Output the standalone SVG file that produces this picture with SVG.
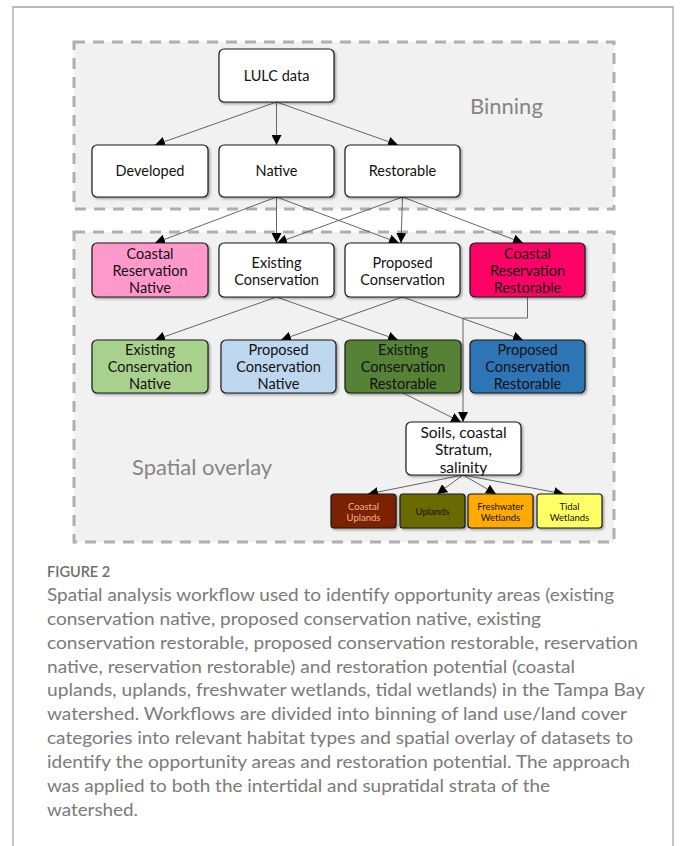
<svg xmlns="http://www.w3.org/2000/svg" width="681" height="846" viewBox="0 0 681 846">
<style>
.frame{fill:none;stroke:#a6a6a6;stroke-width:1.3}
.group{fill:#f1f1f1;stroke:#b3aeae;stroke-width:3;stroke-dasharray:11 8}
.box{stroke:#1a1a1a;stroke-width:1.2;filter:url(#sh)}
.t{font-family:Lato,"Liberation Sans",sans-serif;font-size:14.5px;text-anchor:middle;fill:#111}
.big{font-size:15.5px}
.sm{font-size:9.5px}
.glabel{font-family:Lato,"Liberation Sans",sans-serif;font-size:22px;fill:#858585}
.con{fill:none;stroke:#555;stroke-width:0.9;marker-end:url(#ah)}
.cap{font-family:Lato,"Liberation Sans",sans-serif;font-size:17px;fill:#7a7a7a}
.fig{font-family:Lato,"Liberation Sans",sans-serif;font-size:14.5px;font-weight:600;fill:#6e6e6e}
</style>
<defs>
<filter id="sh" x="-10%" y="-10%" width="130%" height="140%">
<feDropShadow dx="1.5" dy="1.5" stdDeviation="1" flood-color="#000" flood-opacity="0.35"/>
</filter>
<marker id="ah" markerUnits="userSpaceOnUse" markerWidth="10" markerHeight="10" viewBox="0 0 10 10" refX="10" refY="5" orient="auto">
<path d="M0,0 L10,5 L0,10 z" fill="#000"/>
</marker>
</defs>
<rect width="681" height="846" fill="#fff"/>
<path class="frame" d="M13,850 V7 H673 V850"/>

<g id="binning">
<rect class="group" x="74" y="42" width="540" height="167"/>
<text class="glabel" x="470" y="114">Binning</text>
</g>
<g id="spatial-overlay">
<rect class="group" x="74" y="232" width="540" height="310"/>
<text class="glabel" x="132" y="475">Spatial overlay</text>
</g>

<g id="connectors">
<line class="con" x1="276.5" y1="102" x2="155" y2="145"/>
<line class="con" x1="276.5" y1="102" x2="276.5" y2="145"/>
<line class="con" x1="276.5" y1="102" x2="398" y2="145"/>
<line class="con" x1="276.5" y1="197" x2="155" y2="243"/>
<line class="con" x1="276.5" y1="197" x2="276.5" y2="243"/>
<line class="con" x1="276.5" y1="197" x2="399" y2="243"/>
<line class="con" x1="402.5" y1="197" x2="277" y2="243"/>
<line class="con" x1="402.5" y1="197" x2="401" y2="243"/>
<line class="con" x1="402.5" y1="197" x2="523" y2="243"/>
<line class="con" x1="276.5" y1="297" x2="155" y2="340"/>
<line class="con" x1="276.5" y1="297" x2="398" y2="340"/>
<line class="con" x1="402.5" y1="297" x2="281" y2="340"/>
<line class="con" x1="402.5" y1="297" x2="523" y2="340"/>
<polyline class="con" points="527.5,297 527.5,318 463,318 463,422"/>
<line class="con" x1="403" y1="393" x2="461" y2="422"/>
<line class="con" x1="463" y1="475" x2="368" y2="494"/>
<line class="con" x1="463" y1="475" x2="437" y2="494"/>
<line class="con" x1="463" y1="475" x2="496" y2="494"/>
<line class="con" x1="463" y1="475" x2="564" y2="494"/>
</g>

<g id="lulc"><rect class="box" x="219" y="49" width="115" height="53" rx="5" fill="#fff"/><text class="t" x="276.5" y="81">LULC data</text></g>
<g id="developed"><rect class="box" x="92" y="145" width="116" height="52" rx="5" fill="#fff"/><text class="t" x="150" y="176">Developed</text></g>
<g id="native"><rect class="box" x="219" y="145" width="115" height="52" rx="5" fill="#fff"/><text class="t" x="276.5" y="176">Native</text></g>
<g id="restorable"><rect class="box" x="345" y="145" width="115" height="52" rx="5" fill="#fff"/><text class="t" x="402.5" y="176">Restorable</text></g>

<g id="coastal-res-native"><rect class="box" x="92" y="243" width="116" height="54" rx="5" fill="#ff99cc"/><text class="t" x="150" y="258.5">Coastal</text><text class="t" x="150" y="275.5">Reservation</text><text class="t" x="150" y="292.5">Native</text></g>
<g id="existing-cons"><rect class="box" x="219" y="243" width="115" height="54" rx="5" fill="#fff"/><text class="t" x="276.5" y="267.5">Existing</text><text class="t" x="276.5" y="285">Conservation</text></g>
<g id="proposed-cons"><rect class="box" x="345" y="243" width="115" height="54" rx="5" fill="#fff"/><text class="t" x="402.5" y="267.5">Proposed</text><text class="t" x="402.5" y="285">Conservation</text></g>
<g id="coastal-res-restorable"><rect class="box" x="470" y="243" width="115" height="54" rx="5" fill="#ff0066"/><text class="t" x="527.5" y="258.5">Coastal</text><text class="t" x="527.5" y="275.5">Reservation</text><text class="t" x="527.5" y="292.5">Restorable</text></g>

<g id="existing-cons-native"><rect class="box" x="92" y="340" width="116" height="53" rx="5" fill="#a9d18e"/><text class="t" x="150" y="355">Existing</text><text class="t" x="150" y="372">Conservation</text><text class="t" x="150" y="389">Native</text></g>
<g id="proposed-cons-native"><rect class="box" x="221" y="340" width="115" height="53" rx="5" fill="#bdd7ee"/><text class="t" x="278.5" y="355">Proposed</text><text class="t" x="278.5" y="372">Conservation</text><text class="t" x="278.5" y="389">Native</text></g>
<g id="existing-cons-restorable"><rect class="box" x="345" y="340" width="116" height="53" rx="5" fill="#548235"/><text class="t" x="403" y="355">Existing</text><text class="t" x="403" y="372">Conservation</text><text class="t" x="403" y="389">Restorable</text></g>
<g id="proposed-cons-restorable"><rect class="box" x="470" y="340" width="115" height="53" rx="5" fill="#2e75b6"/><text class="t" x="527.5" y="355">Proposed</text><text class="t" x="527.5" y="372">Conservation</text><text class="t" x="527.5" y="389">Restorable</text></g>

<g id="soils"><rect class="box" x="406" y="422" width="115" height="53" rx="5" fill="#fff"/><text class="t big" x="463.5" y="437.5">Soils, coastal</text><text class="t big" x="463.5" y="455">Stratum,</text><text class="t big" x="463.5" y="472.5">salinity</text></g>

<g id="coastal-uplands"><rect class="box" x="331" y="494" width="65" height="34" rx="3" fill="#7b2000"/><text class="t sm" x="363.5" y="509.5" style="fill:#f2b49a">Coastal</text><text class="t sm" x="363.5" y="520.5" style="fill:#f2b49a">Uplands</text></g>
<g id="uplands"><rect class="box" x="400" y="494" width="65" height="34" rx="3" fill="#6b6b00"/><text class="t sm" x="432.5" y="514.5">Uplands</text></g>
<g id="freshwater-wetlands"><rect class="box" x="468" y="494" width="65" height="34" rx="3" fill="#ffaa00"/><text class="t sm" x="500.5" y="509.5">Freshwater</text><text class="t sm" x="500.5" y="520.5">Wetlands</text></g>
<g id="tidal-wetlands"><rect class="box" x="537" y="494" width="65" height="34" rx="3" fill="#ffff66"/><text class="t sm" x="569.5" y="509.5">Tidal</text><text class="t sm" x="569.5" y="520.5">Wetlands</text></g>

<g id="caption">
<text class="fig" x="47" y="577.3">FIGURE 2</text>
<text class="cap" x="47" y="600.7" textLength="567" lengthAdjust="spacingAndGlyphs">Spatial analysis workflow used to identify opportunity areas (existing</text>
<text class="cap" x="47" y="624.6" textLength="494" lengthAdjust="spacingAndGlyphs">conservation native, proposed conservation native, existing</text>
<text class="cap" x="47" y="648.6" textLength="591" lengthAdjust="spacingAndGlyphs">conservation restorable, proposed conservation restorable, reservation</text>
<text class="cap" x="47" y="672.5" textLength="528" lengthAdjust="spacingAndGlyphs">native, reservation restorable) and restoration potential (coastal</text>
<text class="cap" x="47" y="696.4" textLength="598" lengthAdjust="spacingAndGlyphs">uplands, uplands, freshwater wetlands, tidal wetlands) in the Tampa Bay</text>
<text class="cap" x="47" y="720.4" textLength="580" lengthAdjust="spacingAndGlyphs">watershed. Workflows are divided into binning of land use/land cover</text>
<text class="cap" x="47" y="744.3" textLength="586" lengthAdjust="spacingAndGlyphs">categories into relevant habitat types and spatial overlay of datasets to</text>
<text class="cap" x="47" y="768.2" textLength="583" lengthAdjust="spacingAndGlyphs">identify the opportunity areas and restoration potential. The approach</text>
<text class="cap" x="47" y="792.2" textLength="503" lengthAdjust="spacingAndGlyphs">was applied to both the intertidal and supratidal strata of the</text>
<text class="cap" x="47" y="816.1" textLength="91" lengthAdjust="spacingAndGlyphs">watershed.</text>
</g>
</svg>
